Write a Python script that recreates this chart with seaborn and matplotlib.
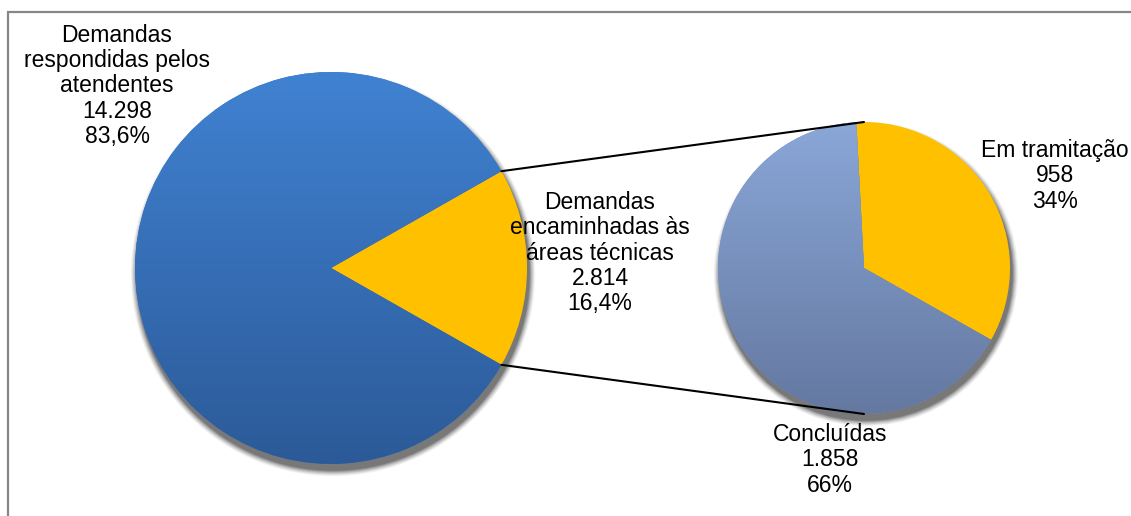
import numpy as np
import matplotlib
matplotlib.use("Agg")
import matplotlib.pyplot as plt
import seaborn as sns
from matplotlib.colors import LinearSegmentedColormap
from matplotlib.patches import Circle, Rectangle

sns.set_theme(style="white")
plt.rcParams['font.family'] = ['Liberation Sans', 'DejaVu Sans']

# ---- data ----
main_labels = ["Demandas\nrespondidas pelos\natendentes", "Demandas\nencaminhadas às\náreas técnicas"]
main_values = [14298, 2814]
main_pct = ["83,6%", "16,4%"]
main_valtxt = ["14.298", "2.814"]

sub_labels = ["Em tramitação", "Concluídas"]
sub_values = [958, 1858]
sub_pct = ["34%", "66%"]
sub_valtxt = ["958", "1.858"]

W, H = 1131, 516
fig = plt.figure(figsize=(W / 100, H / 100), dpi=100)
ax = fig.add_axes([0, 0, 1, 1])
ax.set_xlim(0, W)
ax.set_ylim(0, H)
ax.set_aspect('equal')
ax.axis('off')

# outer border (cut off at right/bottom like the reference)
fig.patches.append(Rectangle((8 / W, -0.1), 1.2, (H - 12) / H + 0.1, transform=fig.transFigure,
                             fill=False, edgecolor="#878787", linewidth=1.6))

c1, r1 = (331, 248), 196
c2, r2 = (864, 248), 146

def shadow(center, r):
    for k, a in zip(range(9, 0, -1), [0.03, 0.04, 0.05, 0.06, 0.07, 0.08, 0.10, 0.12, 0.14]):
        ax.add_patch(Circle((center[0] + 2, center[1] - 6), r + k * 0.7, color="black",
                            alpha=a, lw=0, zorder=1))

shadow(c1, r1)
shadow(c2, r2)

# main pie: orange wedge centred on 0 degrees
frac_other = main_values[1] / sum(main_values)
start1 = -frac_other * 360 / 2
w1, _ = ax.pie(main_values[::-1], colors=["#FFC000", "#3A77C4"], startangle=start1,
               center=c1, radius=r1, frame=True, wedgeprops=dict(linewidth=0, zorder=2))
# sub pie
w2, _ = ax.pie(sub_values, colors=["#FFC000", "#7A92C1"], startangle=93, counterclock=False,
               center=c2, radius=r2, frame=True, wedgeprops=dict(linewidth=0, zorder=2))
ax.set_xlim(0, W)
ax.set_ylim(0, H)
ax.axis('off')

def gradient(wedge, center, r, top, bottom):
    cmap = LinearSegmentedColormap.from_list("g", [top, bottom])
    grad = np.linspace(0, 1, 256).reshape(-1, 1)
    im = ax.imshow(grad, cmap=cmap, aspect='auto', origin='upper',
                   extent=[center[0] - r, center[0] + r, center[1] - r, center[1] + r], zorder=3)
    im.set_clip_path(wedge)

gradient(w1[1], c1, r1, "#4082D2", "#2C5A98")
gradient(w2[1], c2, r2, "#8AA7D8", "#6478A0")
ax.set_xlim(0, W)
ax.set_ylim(0, H)

# connector lines from the edges of the orange wedge to the top/bottom of sub pie
ang = np.deg2rad(frac_other * 360 / 2)
p_top = (c1[0] + r1 * np.cos(ang), c1[1] + r1 * np.sin(ang))
p_bot = (c1[0] + r1 * np.cos(-ang), c1[1] + r1 * np.sin(-ang))
ax.plot([p_top[0], c2[0]], [p_top[1], c2[1] + r2], color="black", lw=1.5, zorder=4)
ax.plot([p_bot[0], c2[0]], [p_bot[1], c2[1] - r2], color="black", lw=1.5, zorder=4)

fs = 16.5
kw = dict(ha="center", va="center", fontsize=fs, color="black", linespacing=1.12, zorder=6)
ax.text(117, 430, f"{main_labels[0]}\n{main_valtxt[0]}\n{main_pct[0]}", **kw)
ax.text(600, 263, f"{main_labels[1]}\n{main_valtxt[1]}\n{main_pct[1]}", **kw)
ax.text(1055, 340, f"{sub_labels[0]}\n{sub_valtxt[0]}\n{sub_pct[0]}", **kw)
ax.text(830, 56, f"{sub_labels[1]}\n{sub_valtxt[1]}\n{sub_pct[1]}", **kw)

fig.savefig("out.png", dpi=100)
